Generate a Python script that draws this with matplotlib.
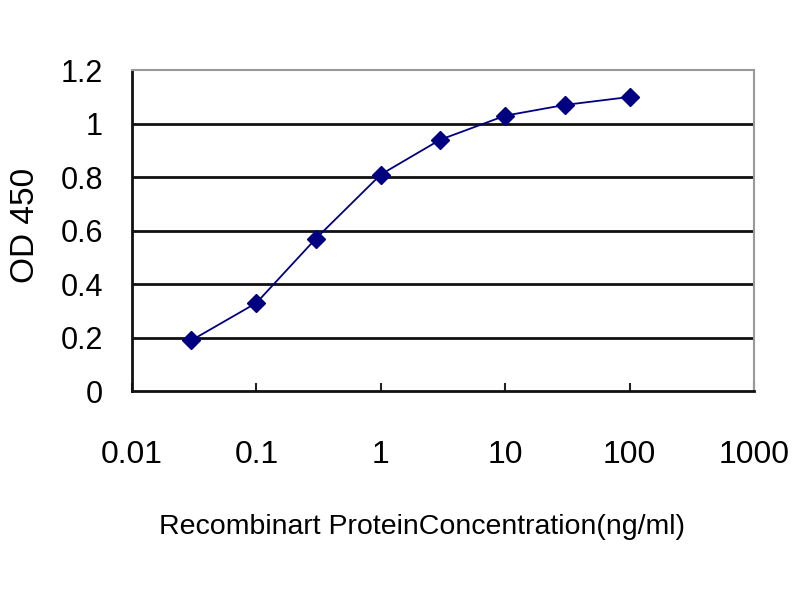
import numpy as np
import matplotlib
matplotlib.use("Agg")
import matplotlib.pyplot as plt

# concentration (ng/ml) and OD 450 readings
conc = [0.03, 0.1, 0.3, 1, 3, 10, 30, 100]
od450 = [0.19, 0.33, 0.57, 0.81, 0.94, 1.03, 1.07, 1.10]

xticks = [0.01, 0.1, 1, 10, 100, 1000]
xticklabels = ["0.01", "0.1", "1", "10", "100", "1000"]
yticks = [0, 0.2, 0.4, 0.6, 0.8, 1.0, 1.2]
yticklabels = ["0", "0.2", "0.4", "0.6", "0.8", "1", "1.2"]

plt.rcParams['font.family'] = ['Liberation Sans', 'DejaVu Sans']

fig = plt.figure(figsize=(8, 6), dpi=100)
ax = fig.add_axes([0.165, 0.348, 0.7775, 0.535])

ax.set_xscale("log")
ax.set_xlim(0.01, 1000)
ax.set_ylim(0, 1.2)

for y in yticks[1:-1]:
    ax.axhline(y, color='#111111', lw=2.0, zorder=1)

ax.plot(conc, od450, color='#000080', lw=1.3, marker='D', ms=9,
        markerfacecolor='#000080', markeredgecolor='#000080', zorder=3)

ax.set_xticks(xticks)
ax.set_xticklabels(xticklabels)
ax.minorticks_off()
ax.set_yticks(yticks)
ax.set_yticklabels(yticklabels)

ax.tick_params(axis='x', direction='in', length=6, width=1.5, pad=35,
               labelsize=23, color='#222222')
ax.tick_params(axis='y', length=0, pad=21, labelsize=22)

ax.spines['left'].set_color('#111111')
ax.spines['left'].set_linewidth(2.0)
ax.spines['bottom'].set_color('#111111')
ax.spines['bottom'].set_linewidth(2.0)
ax.spines['top'].set_color('#999999')
ax.spines['top'].set_linewidth(1.5)
ax.spines['right'].set_color('#999999')
ax.spines['right'].set_linewidth(1.5)

ax.set_xlabel("Recombinart ProteinConcentration(ng/ml)", fontsize=20.5, labelpad=32)
ax.xaxis.label.set_x(0.467)
ax.set_ylabel("OD 450", fontsize=24, labelpad=14)
ax.yaxis.label.set_y(0.517)

fig.savefig("out.png", dpi=100)
